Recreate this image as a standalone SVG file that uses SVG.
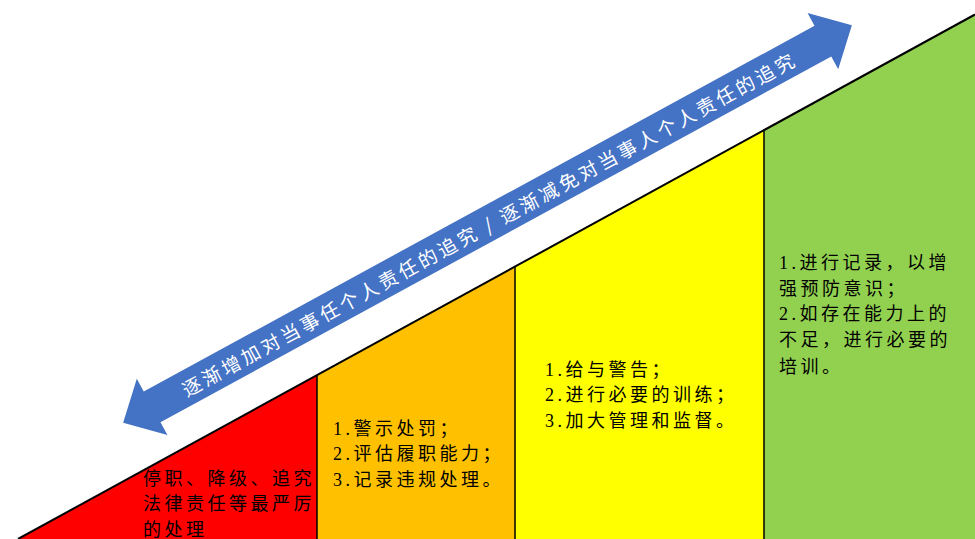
<svg xmlns="http://www.w3.org/2000/svg" width="975" height="539" viewBox="0 0 975 539">
<style>
.t{font-family:"Liberation Serif","Noto Sans CJK SC",serif;font-size:18px;letter-spacing:3.5px;fill:#000}
.div{stroke:#000;stroke-width:1.5;fill:none}
.at{font-family:"Noto Sans CJK SC",sans-serif;font-size:19px;fill:#fff}
</style>
<rect width="975" height="539" fill="#fff"/>
<g id="red">
<polygon points="18,539 317,375.1 317,539" fill="#FF0000"/>
</g>
<g id="orange">
<polygon points="317,375.1 515,266.6 515,539 317,539" fill="#FFC000"/>
</g>
<g id="yellow">
<polygon points="515,266.6 764,130.1 764,539 515,539" fill="#FFFF00"/>
</g>
<g id="green">
<polygon points="764,130.1 975,14.5 975,539 764,539" fill="#92D050"/>
</g>
<g id="edges">
<line x1="18" y1="539" x2="975" y2="14.5" stroke="#000" stroke-width="2"/>
<line class="div" x1="317" y1="375.1" x2="317" y2="539"/>
<line class="div" x1="515" y1="266.6" x2="515" y2="539"/>
<line class="div" x1="764" y1="130.1" x2="764" y2="539"/>
</g>
<g id="red-text">
<text class="t" x="143" y="485">停职、降级、追究</text>
<text class="t" x="143" y="510">法律责任等最严厉</text>
<text class="t" x="143" y="536">的处理</text>
</g>
<g id="orange-text">
<text class="t" x="333" y="435">1.警示处罚；</text>
<text class="t" x="333" y="460">2.评估履职能力；</text>
<text class="t" x="333" y="486">3.记录违规处理。</text>
</g>
<g id="yellow-text">
<text class="t" x="545" y="376">1.给与警告；</text>
<text class="t" x="545" y="401">2.进行必要的训练；</text>
<text class="t" x="545" y="427">3.加大管理和监督。</text>
</g>
<g id="green-text">
<text class="t" x="779" y="269">1.进行记录，以增</text>
<text class="t" x="779" y="295">强预防意识；</text>
<text class="t" x="779" y="320">2.如存在能力上的</text>
<text class="t" x="779" y="346">不足，进行必要的</text>
<text class="t" x="779" y="373">培训。</text>
</g>
<g id="arrow" transform="translate(487.5 224) rotate(-28.6)">
<path d="M415,0 L382,-32 L382,-17.5 L-382,-17.5 L-382,-32 L-415,0 L-382,32 L-382,17.5 L382,17.5 L382,32 Z" fill="#4472C4"/>
<text class="at" x="0" y="0" text-anchor="middle" dominant-baseline="central" textLength="694" lengthAdjust="spacing">逐渐增加对当事任个人责任的追究 / 逐渐减免对当事人个人责任的追究</text>
</g>
</svg>
